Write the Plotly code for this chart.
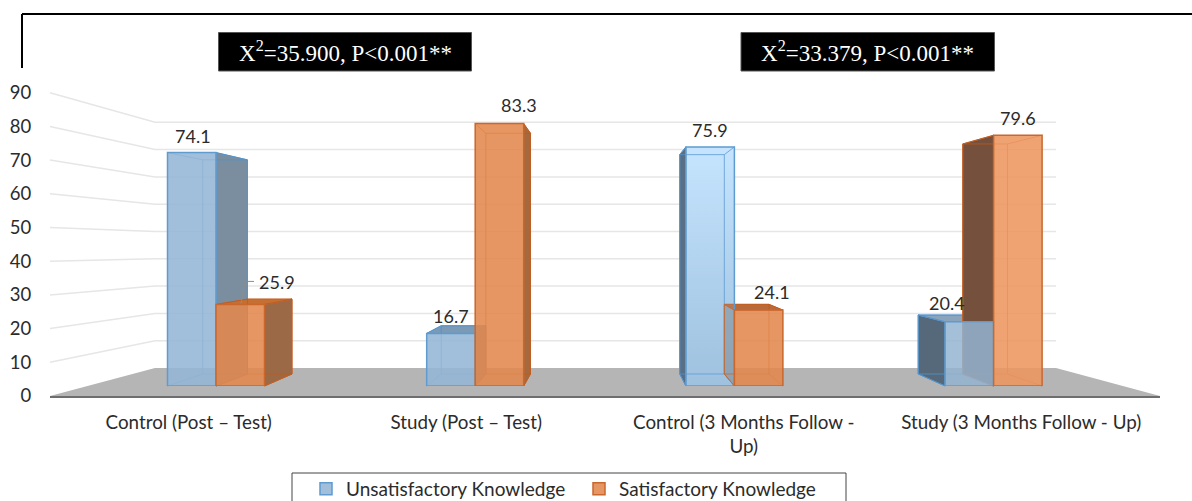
import plotly.graph_objects as go

# ---------- data ----------
categories = ["Control (Post – Test)", "Study (Post – Test)",
              "Control (3 Months Follow -<br>Up)", "Study (3 Months Follow - Up)"]
unsatisfactory = [74.1, 16.7, 75.9, 20.4]
satisfactory = [25.9, 83.3, 24.1, 79.6]
y_ticks = [0, 10, 20, 30, 40, 50, 60, 70, 80, 90]
chi_labels = ["X<sup>2</sup>=35.900, P&lt;0.001**", "X<sup>2</sup>=33.379, P&lt;0.001**"]
series_names = ["Unsatisfactory Knowledge", "Satisfactory Knowledge"]

# ---------- geometry of the pseudo-3D projection (pixels) ----------
W, H = 1192, 501
CAT0, CAT_STEP, BAR_W = 216.0, 259.2, 48.5
def front_y(v): return 386 - 3.15 * v
def back_y(v): return 374 - 2.89 * v
def back_x(x): return 203.6 + 0.92 * (x - 168.4)
def wall_front(v): return 396 - 3.37 * v
def wall_back(v): return 368 - 2.73 * v
WALL_L, WALL_R, BACK_L, BACK_R = 50, 1160, 155, 1056

fig = go.Figure()

def poly(xs, ys, fill=None, line=None, width=1, closed=True, **kw):
    if closed:
        xs, ys = list(xs) + [xs[0]], list(ys) + [ys[0]]
    fig.add_trace(go.Scatter(
        x=xs, y=ys, mode="lines", xaxis="x", yaxis="y", showlegend=False, hoverinfo="skip",
        fill="toself" if fill or "fillgradient" in kw else "none",
        fillcolor=fill, line=dict(color=line or "rgba(0,0,0,0)", width=width), **kw))

# floor and walls
poly([WALL_L, BACK_L, BACK_R, WALL_R], [wall_front(0), wall_back(0), wall_back(0), wall_front(0)], fill="#b5b5b5")
for t in y_ticks[1:]:
    poly([WALL_L, BACK_L, BACK_R], [wall_front(t), wall_back(t), wall_back(t)],
         line="#e6e6e6", width=1.5, closed=False)

EDGES = ["#5f9bcf", "#c9672c"]
INNER = ["rgba(80,145,205,0.8)", "rgba(190,90,30,0.8)"]
side_col = {(0, 0): "#7a8e9f", (1, 0): "#7a8e9f", (2, 0): "#586f85", (3, 0): "#56697a",
            (0, 1): "#9c6946", (1, 1): "#a4693f", (2, 1): "rgba(120,125,125,0.55)", (3, 1): "#75513d"}
top_col = {(0, 1): "#c56f33", (1, 0): "#7b9ab6", (2, 1): "#b86a3a", (3, 0): "#8aa4bc"}

# gradient under the lit third column
x_l = CAT0 + 2 * CAT_STEP - BAR_W
poly([x_l, x_l + BAR_W, x_l + BAR_W, x_l], [front_y(unsatisfactory[2]), front_y(unsatisfactory[2]), front_y(0), front_y(0)],
     fillgradient=dict(type="vertical", colorscale=[[0, "#9dbfdb"], [1, "#cbe8ff"]]))

# boxes: side face, top face and back outline are all derived from the values
for s, vals in enumerate([unsatisfactory, satisfactory]):
    edge, inner = EDGES[s], INNER[s]
    for i, v in enumerate(vals):
        l = CAT0 + i * CAT_STEP - BAR_W + s * BAR_W
        r = l + BAR_W
        bl, br = back_x(l), back_x(r)
        ft, bt, f0, b0 = front_y(v), back_y(v), front_y(0), back_y(0)
        sx = r if br > r else l
        sb = br if br > r else bl
        poly([sx, sb, sb, sx], [ft, bt, b0, f0], fill=side_col[(i, s)], line=edge, width=1)
        if (i, s) in top_col:
            poly([l, r, br, bl], [ft, ft, bt, bt], fill=top_col[(i, s)], line=edge, width=1)
        poly([bl, br, br, bl], [bt, bt, b0, b0], line=inner, width=1)
        poly([l, bl], [f0, b0], line=inner, closed=False)
        poly([r, br], [f0, b0], line=inner, closed=False)
        poly([l, bl], [ft, bt], line=inner, closed=False)
        poly([r, br], [ft, bt], line=inner, closed=False)

# front faces: the real bars
fig.add_trace(go.Bar(name=series_names[0], x=categories, y=unsatisfactory, xaxis="x2", yaxis="y2",
                     marker=dict(color=["rgba(148,182,213,0.88)", "rgba(148,182,213,0.88)",
                                        "rgba(170,210,245,0.15)", "rgba(146,180,210,0.84)"],
                                 line=dict(color=EDGES[0], width=1.5))))
fig.add_trace(go.Bar(name=series_names[1], x=categories, y=satisfactory, xaxis="x2", yaxis="y2",
                     marker=dict(color=["rgba(227,136,76,0.88)", "rgba(227,136,76,0.88)",
                                        "rgba(227,136,76,0.88)", "rgba(238,150,95,0.88)"],
                                 line=dict(color=EDGES[1], width=1.5))))
# axis carrier
fig.add_trace(go.Scatter(x=categories, y=[0, 0, 0, 0], xaxis="x3", yaxis="y3", mode="none",
                         showlegend=False, hoverinfo="skip"))

FONT = "Lato"
TXT = "#2b2b2b"
label_shift = [[(-23, 17), (-24, 17), (-24, 17), (-47, 19)],
               [(61, 22), (44, 19), (38, 18), (24, 17)]]
annotations = []
for s, vals in enumerate([unsatisfactory, satisfactory]):
    for i, v in enumerate(vals):
        dx, dy = label_shift[s][i]
        annotations.append(dict(x=categories[i], y=v, xref="x2", yref="y2", text=f"{v}", showarrow=False,
                                xshift=dx, yshift=dy, font=dict(family=FONT, size=18, color=TXT)))

# leader line for the 25.9 label, hung off that bar's top
t0 = front_y(satisfactory[0])
shapes = [
    dict(type="line", xref="x", yref="y", x0=241, x1=245, y0=t0 - 1, y1=t0 - 23, line=dict(color="#8c8c8c", width=1)),
    dict(type="line", xref="x", yref="y", x0=245, x1=254, y0=t0 - 23, y1=t0 - 23, line=dict(color="#8c8c8c", width=1)),
    dict(type="line", xref="paper", yref="paper", x0=22 / W, x1=1, y0=1 - 14 / H, y1=1 - 14 / H,
         line=dict(color="black", width=2)),
    dict(type="line", xref="paper", yref="paper", x0=22 / W, x1=22 / W, y0=1 - 14 / H, y1=1 - 68 / H,
         line=dict(color="black", width=2)),
    dict(type="rect", xref="paper", yref="paper", x0=292 / W, x1=846 / W, y0=-0.01, y1=1 - 473 / H,
         line=dict(color="#444444", width=1), layer="below"),
]
for (x0, x1), lab in zip([(218.5, 471.5), (741, 994.5)], chi_labels):
    shapes.append(dict(type="rect", xref="paper", yref="paper", x0=x0 / W, x1=x1 / W, y0=1 - 71 / H, y1=1 - 32.5 / H,
                       fillcolor="black", line=dict(color="#555555", width=1)))
    annotations.append(dict(x=(x0 + x1) / 2 / W, y=1 - 52 / H, xref="paper", yref="paper", text=lab, showarrow=False,
                            xanchor="center", yanchor="middle",
                            font=dict(family="Liberation Serif", size=23, color="white")))

hidden = dict(visible=False, fixedrange=True)
fig.update_layout(
    width=W, height=H, autosize=False, margin=dict(l=0, r=0, t=0, b=0, pad=0, autoexpand=False),
    paper_bgcolor="white", plot_bgcolor="rgba(0,0,0,0)",
    barmode="group", bargap=1 - 2 * BAR_W / CAT_STEP, bargroupgap=0,
    font=dict(family=FONT, size=18, color=TXT),
    xaxis=dict(range=[0, W], domain=[0, 1], **hidden),
    yaxis=dict(range=[H, 0], domain=[0, 1], **hidden),
    xaxis2=dict(type="category", categoryorder="array", categoryarray=categories, anchor="y2",
                range=[-0.5, 3.5], domain=[(CAT0 - CAT_STEP / 2) / W, (CAT0 + 3.5 * CAT_STEP) / W], **hidden),
    yaxis2=dict(range=[0, 90], anchor="x2", domain=[(H - front_y(0)) / H, (H - front_y(90)) / H], **hidden),
    xaxis3=dict(type="category", categoryorder="array", categoryarray=categories, anchor="y3",
                range=[-0.5, 3.5], domain=[WALL_L / W, WALL_R / W], showline=True, linecolor="#6e6e6e", linewidth=2,
                ticks="outside", ticklen=8, tickcolor="rgba(0,0,0,0)", showgrid=False, fixedrange=True,
                tickfont=dict(family=FONT, size=18.8, color=TXT)),
    yaxis3=dict(range=[0, 90], anchor="x3", domain=[(H - wall_front(0)) / H, (H - wall_front(90)) / H],
                tickvals=y_ticks, ticks="outside", ticklen=14, tickcolor="rgba(0,0,0,0)", showgrid=False,
                zeroline=False, showline=False, fixedrange=True, tickfont=dict(family=FONT, size=18.5, color=TXT)),
    legend=dict(orientation="h", x=306 / W, xanchor="left", y=1 - 489 / H, yanchor="middle",
                bgcolor="rgba(0,0,0,0)", borderwidth=0, entrywidth=228, entrywidthmode="pixels",
                font=dict(family=FONT, size=19, color=TXT), traceorder="normal"),
    shapes=shapes, annotations=annotations,
)
fig.write_html("out.html", config=dict(displayModeBar=False),
               post_script="document.body.style.margin='0';")
